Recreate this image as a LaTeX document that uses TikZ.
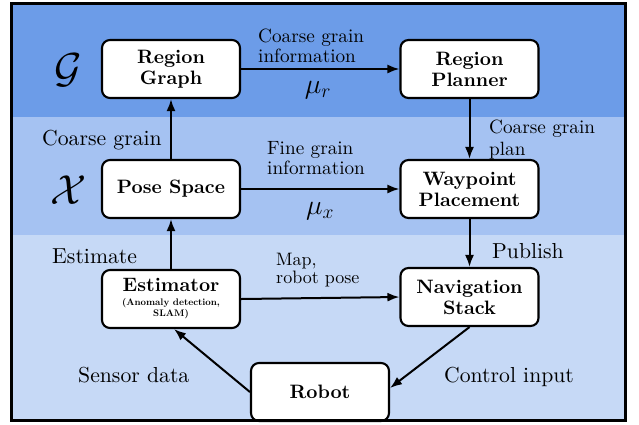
\documentclass[tikz,border=0pt]{standalone}
\usepackage{fix-cm}
\usepackage{fontspec}
\setmainfont{lmroman10}[Extension=.otf, UprightFont=*-regular, BoldFont=*-bold, ItalicFont=*-italic, BoldItalicFont=*-bolditalic]
\usetikzlibrary{arrows.meta,calc}
\definecolor{bandA}{HTML}{6C9CE8}
\definecolor{bandB}{HTML}{A5C2F2}
\definecolor{bandC}{HTML}{C6D9F6}
\newcommand\myNodeFont{\fontsize{19.4}{21}\selectfont\bfseries}
\newcommand\myTinyFont{\fontsize{9.5}{11.6}\selectfont\bfseries}
\newcommand\mySideFont{\fontsize{21.7}{24}\selectfont}
\newcommand\myArrFont{\fontsize{19.2}{20.5}\selectfont}
\newcommand\myMapFont{\fontsize{18}{18}\selectfont}
\newcommand\myMathFont{\fontsize{28}{30}\selectfont}
\newcommand\mySymFont{\fontsize{42}{44}\selectfont}
\begin{document}
\begin{tikzpicture}[x=1pt,y=-1pt,
  box/.style={draw=black, line width=2.1pt, rounded corners=8pt, fill=white,
    minimum width=138pt, minimum height=58pt, align=center, font=\myNodeFont, inner sep=0pt},
  conn/.style={-{Latex[length=12pt,width=9pt]}, line width=2pt},
  side/.style={font=\mySideFont, inner sep=0pt},
  arrlbl/.style={font=\myArrFont, align=left, inner sep=0pt},
  mathlbl/.style={font=\myMathFont, inner sep=0pt},
  sym/.style={font=\mySymFont, inner sep=0pt}]
\useasboundingbox (0,0) rectangle (639,424);
% bands
\fill[bandA] (11,2) rectangle (627,117);
\fill[bandB] (11,117) rectangle (627,235);
\fill[bandC] (11,235) rectangle (627,422);
% nodes
\node[box] (rg) at (171,69) {Region\\Graph};
\node[box] (rp) at (469.5,69) {Region\\Planner};
\node[box] (ps) at (171,189) {Pose Space};
\node[box] (wp) at (469.5,189) {Waypoint\\Placement};
\node[box] (est) at (171,299) {Estimator\\[-7.6pt]{\myTinyFont (Anomaly detection,}\\[-9.4pt]{\myTinyFont SLAM)}};
\node[box] (nav) at (469.5,297) {Navigation\\Stack};
\node[box] (rob) at (320,392) {Robot};
% symbols
\node[sym] (symG) at (68.5,70.5) {$\mathcal{G}$};
\node[sym] (symX) at (69,190) {$\mathcal{X}$};
% connectors
\draw[conn] (ps) -- (rg);
\draw[conn] (rg) -- (rp);
\draw[conn] (rp) -- (wp);
\draw[conn] (ps) -- (wp);
\draw[conn] (est) -- (ps);
\draw[conn] (wp) -- (nav);
\draw[conn] (est.east) -- (nav.west);
\draw[conn] (rob.west) -- ([xshift=3pt]est.south);
\draw[conn] (nav.south) -- ([yshift=4pt]rob.east);
% labels
\node[arrlbl, anchor=south west] (l1) at (258,62.5) {Coarse grain\\[-0.5pt]information};
\node[mathlbl, anchor=base] (mur) at (318,93) {$\mu_r$};
\node[arrlbl, anchor=south west] (l2) at (267,175) {Fine grain\\information};
\node[mathlbl, anchor=base] (mux) at (320,214) {$\mu_x$};
\node[arrlbl, anchor=north west] (l3) at (489,120) {Coarse grain\\[1.5pt]plan};
\node[font=\myMapFont, align=left, inner sep=0pt, anchor=north west] (l4) at (276,252.7) {Map,\\robot pose};
\node[side, anchor=base west] (l5) at (42,145) {Coarse grain};
\node[side, anchor=base west] (l6) at (52,263) {Estimate};
\node[side, anchor=base west] (l7) at (78,382) {Sensor data};
\node[side, anchor=base west] (l8) at (492,258) {Publish};
\node[side, anchor=base west] (l9) at (444,382) {Control input};
% frame
\draw[line width=3pt] (11.5,3) rectangle (625,420);
\end{tikzpicture}
\end{document}
